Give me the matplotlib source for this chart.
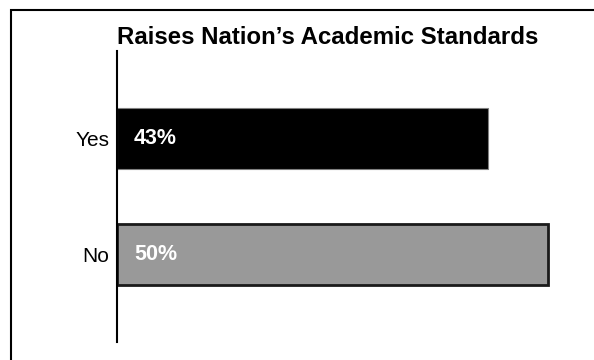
import matplotlib.pyplot as plt
from matplotlib.patches import Rectangle

plt.rcParams['font.family'] = ['Liberation Sans', 'DejaVu Sans']

categories = ["Yes", "No"]
values = [43, 50]
bar_colors = ["#000000", "#999999"]
edge_colors = ["#7f7f7f", "#1a1a1a"]
edge_widths = [0.8, 2.0]

fig = plt.figure(figsize=(5.94, 3.6), dpi=100)
ax = fig.add_axes([117.5 / 594, 18 / 360, (585 - 117.5) / 594, 291 / 360])

ypos = [1, 0]
for y, v, c, ec, lw in zip(ypos, values, bar_colors, edge_colors, edge_widths):
    ax.barh(y, v, height=0.526, color=c, edgecolor=ec, linewidth=lw)
    ax.text(1.9, y, f"{v}%", color="white", fontsize=15.5, fontweight="bold",
            va="center", ha="left")

ax.set_xlim(0, (585 - 117.5) / 8.61)
ax.set_ylim(-0.754, 1.754)
ax.set_yticks(ypos)
ax.set_yticklabels(categories, fontsize=15)
ax.tick_params(axis="y", length=0, pad=6)
ax.set_xticks([])
for side in ["top", "right", "bottom"]:
    ax.spines[side].set_visible(False)
ax.spines["left"].set_linewidth(1.5)

fig.text(328 / 594, 0.897, "Raises Nation\u2019s Academic Standards",
         fontsize=17.3, fontweight="bold", ha="center", va="center")

# outer frame, running off the right and bottom edges
fig.patches.append(Rectangle((11 / 594, -0.1), 1.2, (360 - 9.5) / 360 + 0.1,
                             transform=fig.transFigure, fill=False,
                             edgecolor="black", linewidth=1.5))

fig.savefig("out.png", dpi=100)
